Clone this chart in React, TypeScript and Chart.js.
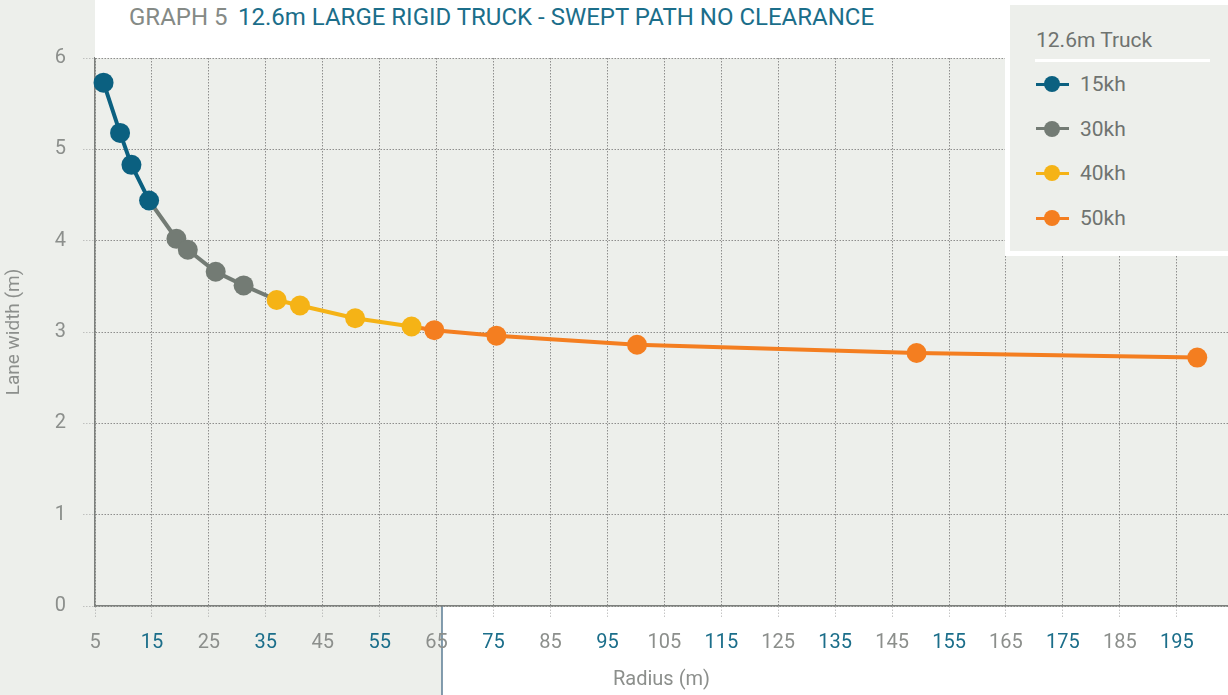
import React, { useEffect, useRef } from "react";
import { Chart, registerables } from "chart.js";

Chart.register(...registerables);

// ---- data ----
const seriesNames = ["15kh", "30kh", "40kh", "50kh"];
const radius15 = [6.5, 9.4, 11.4, 14.5];
const width15 = [5.73, 5.18, 4.83, 4.44];
const radius30 = [19.3, 21.3, 26.2, 31.1];
const width30 = [4.02, 3.9, 3.66, 3.51];
const radius40 = [36.9, 41.0, 50.7, 60.6];
const width40 = [3.35, 3.29, 3.15, 3.06];
const radius50 = [64.6, 75.5, 100.2, 149.3, 198.6];
const width50 = [3.02, 2.96, 2.86, 2.77, 2.72];
const xTicks = [5, 15, 25, 35, 45, 55, 65, 75, 85, 95, 105, 115, 125, 135, 145, 155, 165, 175, 185, 195];
const yTicks = [0, 1, 2, 3, 4, 5, 6];
const xMin = 5;
const xMax = 204;
const yMin = 0;
const yMax = 6;
const titleLead = "GRAPH 5";
const titleMain = "12.6m LARGE RIGID TRUCK - SWEPT PATH NO CLEARANCE";
const legendTitle = "12.6m Truck";
const xTitle = "Radius (m)";
const yTitle = "Lane width (m)";

// ---- styles ----
const TEAL = "#0b6080";
const GREY = "#737b74";
const YELLOW = "#f5b316";
const ORANGE = "#f47e20";
const seriesColors = [TEAL, GREY, YELLOW, ORANGE];
const PAGE_BG = "#edefeb";
const TICK_GREY = "#8c8f8c";
const TICK_TEAL = "#1b6e8a";
const TEXT_GREY = "#6f7370";
const FONT = "Roboto, 'Open Sans', sans-serif";

type P = { x: number; y: number; link?: boolean };
const pts = (xs: number[], ys: number[]): P[] => xs.map((x, i) => ({ x, y: ys[i] }));
const asLink = (p: P): P => ({ ...p, link: true });

export default function App() {
  const ref = useRef<HTMLCanvasElement | null>(null);

  useEffect(() => {
    if (!ref.current) return;
    const d15 = pts(radius15, width15);
    const d40 = pts(radius40, width40);
    const d30 = [asLink(d15[d15.length - 1]), ...pts(radius30, width30), asLink(d40[0])];
    const d50 = [asLink(d40[d40.length - 1]), ...pts(radius50, width50)];
    const allData = [d15, d30, d40, d50];
    const drawOrder = [0, 3, 1, 2];

    const bgPlugin = {
      id: "pageBg",
      beforeDraw(chart: any) {
        const { ctx, chartArea } = chart;
        ctx.save();
        ctx.fillStyle = PAGE_BG;
        ctx.fillRect(0, 0, chart.width, chart.height);
        const splitX = 442;
        ctx.fillStyle = "#ffffff";
        ctx.fillRect(splitX, chartArea.bottom + 1, chart.width - splitX, chart.height - chartArea.bottom);
        ctx.strokeStyle = "#5b7d95";
        ctx.lineWidth = 1.5;
        ctx.beginPath();
        ctx.moveTo(splitX, chartArea.bottom);
        ctx.lineTo(splitX, chart.height);
        ctx.stroke();
        ctx.restore();
      },
    };

    const gridOpts = {
      color: "rgba(110,110,110,0.75)",
      lineWidth: 1,
      tickLength: 12,
      tickColor: "rgba(160,160,160,0.6)",
      tickBorderDash: [1.5, 1.5],
    };
    const borderOpts = { display: true, color: "#7d807d", width: 1.5, dash: [1.5, 1.5] };

    const chart = new Chart(ref.current, {
      type: "line",
      data: {
        datasets: allData.map((d, i) => ({
          label: seriesNames[i],
          data: d as any,
          borderColor: seriesColors[i],
          backgroundColor: seriesColors[i],
          pointBackgroundColor: seriesColors[i],
          pointBorderWidth: 0,
          borderWidth: 4,
          tension: 0,
          order: drawOrder[i],
          clip: false,
          pointRadius: (c: any) => (c.raw && c.raw.link ? 0 : 10),
          pointHoverRadius: (c: any) => (c.raw && c.raw.link ? 0 : 10),
        })),
      },
      options: {
        animation: false,
        responsive: false,
        maintainAspectRatio: false,
        layout: { autoPadding: false, padding: { top: 58, left: 0, right: 0, bottom: 0 } },
        plugins: {
          legend: { display: false },
          tooltip: { enabled: false },
        },
        scales: {
          x: {
            type: "linear",
            min: xMin,
            max: xMax,
            afterBuildTicks: (s: any) => {
              s.ticks = xTicks.map((v) => ({ value: v }));
            },
            afterFit: (s: any) => {
              s.height = 89;
            },
            ticks: {
              padding: 13,
              autoSkip: false,
              maxRotation: 0,
              color: (c: any) => (c.index % 2 === 1 ? TICK_TEAL : TICK_GREY),
              font: { family: FONT, size: 20 },
              callback: (v: any) => String(v),
            },
            grid: gridOpts,
            border: borderOpts,
            title: {
              display: true,
              text: xTitle,
              color: TICK_GREY,
              font: { family: FONT, size: 20 },
              padding: { top: 4, bottom: 3 },
            },
          },
          y: {
            type: "linear",
            min: yMin,
            max: yMax,
            afterBuildTicks: (s: any) => {
              s.ticks = yTicks.map((v) => ({ value: v }));
            },
            afterFit: (s: any) => {
              s.width = 95;
            },
            ticks: {
              padding: 17,
              color: TICK_GREY,
              font: { family: FONT, size: 20 },
              callback: (v: any) => String(v),
            },
            grid: gridOpts,
            border: borderOpts,
            title: {
              display: true,
              text: yTitle,
              color: TICK_GREY,
              font: { family: FONT, size: 19 },
              padding: { top: 3, bottom: 4 },
            },
          },
        },
      } as any,
      plugins: [bgPlugin],
    });
    return () => chart.destroy();
  }, []);

  return (
    <div style={{ position: "fixed", left: 0, top: 0, width: 1228, height: 695, overflow: "hidden", background: PAGE_BG }}>
      <canvas ref={ref} width={1228} height={695} style={{ display: "block", width: 1228, height: 695 }} />
      <div
        style={{
          position: "absolute",
          left: 95,
          top: 0,
          width: 910,
          height: 58,
          background: "#ffffff",
          fontFamily: FONT,
          fontSize: 24,
          lineHeight: "34px",
          whiteSpace: "nowrap",
        }}
      >
        <span style={{ position: "absolute", left: 34, top: 0, color: "#858a86" }}>{titleLead}</span>
        <span style={{ position: "absolute", left: 143, top: 0, color: TICK_TEAL }}>{titleMain}</span>
      </div>
      <div style={{ position: "absolute", left: 1005, top: 0, width: 223, height: 256, background: "#ffffff" }}>
        <div
          style={{
            position: "absolute",
            left: 5,
            top: 5,
            width: 218,
            height: 246,
            background: PAGE_BG,
            fontFamily: FONT,
            color: TEXT_GREY,
          }}
        >
          <div style={{ position: "absolute", left: 26, top: 21, fontSize: 21, lineHeight: "28px", whiteSpace: "nowrap" }}>
            {legendTitle}
          </div>
          <div style={{ position: "absolute", left: 25, top: 54, width: 175, height: 3, background: "#ffffff" }} />
          {seriesNames.map((n, i) => {
            const cy = 79 + i * 44.7;
            return (
              <div key={n}>
                <div style={{ position: "absolute", left: 26, top: cy - 1.5, width: 33, height: 3, background: seriesColors[i] }} />
                <div
                  style={{
                    position: "absolute",
                    left: 34,
                    top: cy - 8,
                    width: 16,
                    height: 16,
                    borderRadius: 8,
                    background: seriesColors[i],
                  }}
                />
                <div
                  style={{
                    position: "absolute",
                    left: 70,
                    top: cy - 14,
                    fontSize: 21,
                    lineHeight: "28px",
                    whiteSpace: "nowrap",
                  }}
                >
                  {n}
                </div>
              </div>
            );
          })}
        </div>
      </div>
    </div>
  );
}
